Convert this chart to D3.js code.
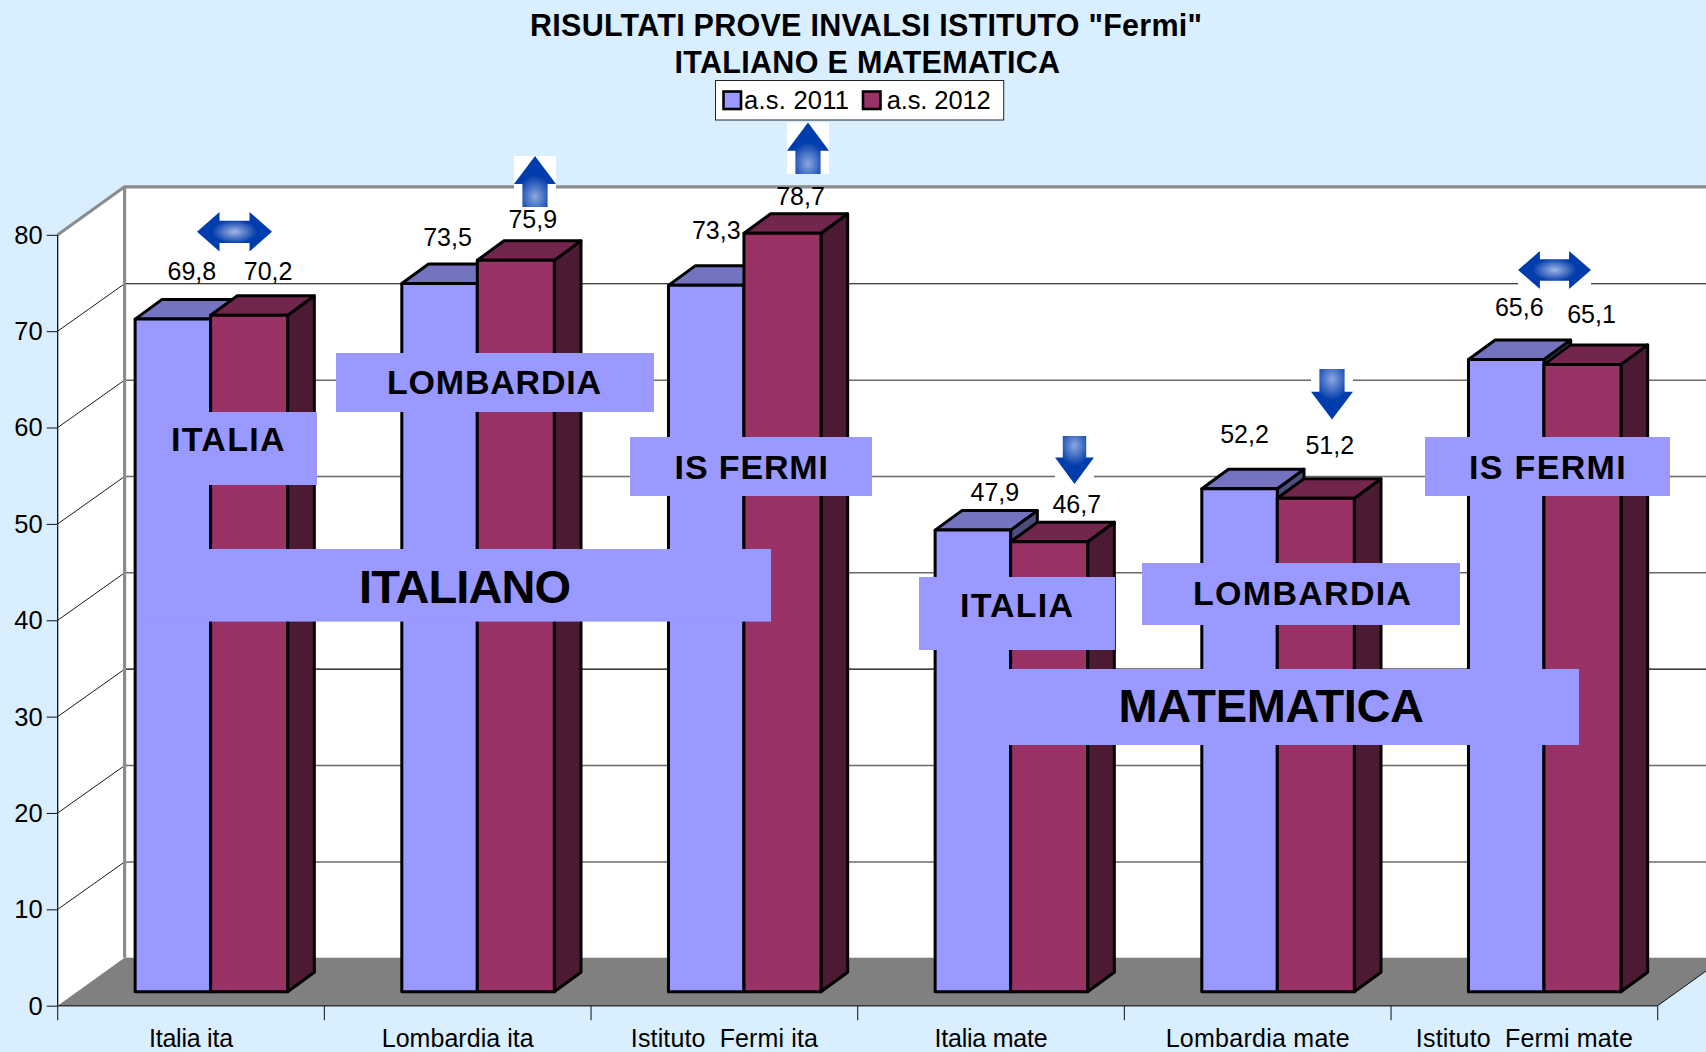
<!DOCTYPE html>
<html><head><meta charset="utf-8">
<script src="https://cdn.jsdelivr.net/npm/d3@7"></script>
<style>
html,body{margin:0;padding:0;background:#D9EEFF;overflow:hidden}
svg{display:block}
text{font-family:"Liberation Sans",Arial,sans-serif;fill:#000}
</style></head><body>
<svg id="c" width="1706" height="1052"></svg>
<script>
const categories = ["Italia ita","Lombardia ita","Istituto  Fermi ita","Italia mate","Lombardia mate","Istituto  Fermi mate"];
const seriesNames = ["a.s. 2011","a.s. 2012"];
const values2011 = [69.8,73.5,73.3,47.9,52.2,65.6];
const values2012 = [70.2,75.9,78.7,46.7,51.2,65.1];
const yTicks = [0,10,20,30,40,50,60,70,80];
const titleLines = ['RISULTATI PROVE INVALSI ISTITUTO "Fermi"','ITALIANO E MATEMATICA'];

const fmt = v => String(v).replace(".",",");
const svg = d3.select("#c");
const W = 1706;
const x = d3.scaleBand().domain(categories).range([57.7,1657.7]);
const y = d3.scaleLinear().domain([0,80]).range([1005.7,234.8]);
const barW = [75.5,77];
const depth = {dx:66.9, dy:-48};          // wall depth
const plane = {dx:19.6, dy:-14};          // bar front plane
const bar   = {dx:26.7, dy:-19.5};        // bar depth
const gridNudge = 0.6;

// walls
const yB = v => y(v)+depth.dy;
svg.append("polygon").attr("fill","#fff").attr("points",[
 [x.range()[0],y(80)],[x.range()[0]+depth.dx,yB(80)],[W,yB(80)],[W,yB(0)],[x.range()[0]+depth.dx,yB(0)],[x.range()[0],y(0)]
].join(" "));
const gridStyle = {30:["#000",1.2],70:["#000",1.2]};
svg.append("g").selectAll("line").data(yTicks.slice(1,-1)).join("line")
  .attr("x1",x.range()[0]+depth.dx).attr("x2",W).attr("y1",d=>yB(d)+gridNudge).attr("y2",d=>yB(d)+gridNudge)
  .attr("stroke",d=>gridStyle[d]?gridStyle[d][0]:"#6a6a6a").attr("stroke-width",d=>gridStyle[d]?gridStyle[d][1]:1.5);
svg.append("g").selectAll("line").data(yTicks.slice(1,-1)).join("line")
  .attr("x1",x.range()[0]).attr("x2",x.range()[0]+depth.dx).attr("y1",y).attr("y2",d=>yB(d)+gridNudge)
  .attr("stroke","#000").attr("stroke-width",0.9);
// floor
const floorEdgeY = y(0)+(x.range()[1]-W)*(-depth.dy/depth.dx);
svg.append("polygon").attr("fill","#808080").attr("points",[
 [x.range()[0],y(0)],[x.range()[0]+depth.dx,yB(0)],[W,yB(0)],[W,floorEdgeY],[x.range()[1],y(0)]
].join(" "));
svg.append("line").attr("x1",x.range()[1]).attr("y1",y(0)).attr("x2",W).attr("y2",floorEdgeY).attr("stroke","#111").attr("stroke-width",1);
// grey frame
svg.append("polyline").attr("fill","none").attr("stroke","#8c8c8c").attr("stroke-width",3.2)
  .attr("points",[[x.range()[0],y(80)],[x.range()[0]+depth.dx,yB(80)],[W,yB(80)]].join(" "));
svg.append("line").attr("x1",x.range()[0]+depth.dx).attr("x2",x.range()[0]+depth.dx).attr("y1",yB(80)).attr("y2",yB(0))
  .attr("stroke","#8c8c8c").attr("stroke-width",3.2);

// bars
const palette = [
 {front:"#9999FF",top:"#7373BF",side:"#4D4D80"},
 {front:"#993366",top:"#73264D",side:"#4D1A33"}
];
const rows = [];
seriesNames.forEach((s,si)=>{
  const vals = si===0?values2011:values2012;
  categories.forEach((c,ci)=>rows.push({s,si,c,ci,v:vals[ci]}));
});
const gb = svg.append("g").attr("stroke","#000").attr("stroke-width",3).attr("stroke-linejoin","round");
rows.forEach(d=>{
  const mid = x(d.c)+x.bandwidth()/2+plane.dx;
  const l = d.si===0?mid-barW[0]:mid, r = d.si===0?mid:mid+barW[1];
  const b = y(0)+plane.dy, t = y(d.v)+plane.dy;
  d.cx=(l+r)/2; d.top=t;
  const p = palette[d.si];
  gb.append("polygon").attr("fill",p.side).attr("points",[[r,t],[r+bar.dx,t+bar.dy],[r+bar.dx,b+bar.dy],[r,b]].join(" "));
  gb.append("polygon").attr("fill",p.top).attr("points",[[l,t],[l+bar.dx,t+bar.dy],[r+bar.dx,t+bar.dy],[r,t]].join(" "));
  gb.append("rect").attr("fill",p.front).attr("x",l).attr("y",t).attr("width",r-l).attr("height",b-t);
});

// axes
const ax = svg.append("g").attr("transform",`translate(${x.range()[0]},0)`)
  .call(d3.axisLeft(y).tickValues(yTicks).tickFormat(d3.format("d")).tickSize(11).tickPadding(4));
ax.select(".domain").attr("stroke","#000").attr("stroke-width",1.2).attr("d",`M0,${y(80)}V${y(0)}`);
ax.selectAll("line").attr("stroke","#111").attr("stroke-width",1);
ax.selectAll("text").style("font-size","25.5px").style("font-family",'"Liberation Sans"').attr("fill","#000").attr("dy","0.33em");

const bx = svg.append("g").attr("transform",`translate(0,${y(0)})`)
  .call(d3.axisBottom(x).tickSize(0).tickPadding(32));
bx.select(".domain").attr("stroke","#333").attr("stroke-width",1.6).attr("d",`M${x.range()[0]},0H${x.range()[1]}`);
const catWidths = [84,152,187,113,184,217];
bx.selectAll("text").style("font-size","25px").style("font-family",'"Liberation Sans"').attr("fill","#000")
  .attr("dy","0.36em").attr("textLength",(d,i)=>catWidths[i]).attr("lengthAdjust","spacing").style("white-space","pre");
const edges = categories.map(c=>x(c)).concat(x.range()[1]);
bx.append("g").selectAll("line").data(edges).join("line").attr("x1",d=>d).attr("x2",d=>d).attr("y1",0).attr("y2",14.5)
  .attr("stroke","#222").attr("stroke-width",1.1);

// white-backed arrows
const defs = svg.append("defs");
defs.append("filter").attr("id","soft").attr("x","-10%").attr("y","-10%").attr("width","120%").attr("height","120%")
  .append("feGaussianBlur").attr("stdDeviation",0.7);
const radial = (id,cx,cy,r,light)=>{
  const g = defs.append("radialGradient").attr("id",id).attr("cx",cx).attr("cy",cy).attr("r",r);
  g.append("stop").attr("offset","0%").attr("stop-color",light);
  g.append("stop").attr("offset","100%").attr("stop-color","#023CAC");
};
radial("both",.5,.5,.3,"#A3B7E4");
radial("up",.5,.8,.42,"#8CA7DF");
radial("down",.5,.2,.42,"#8CA7DF");
const arrows = [
 {k:"up",x:514,y:156,w:42,h:51},{k:"up",x:787,y:122.5,w:42,h:51.5},
 {k:"down",x:1055,y:436,w:39,h:48},{k:"down",x:1311,y:369,w:42,h:50.5},
 {k:"both",x:197,y:212,w:75,h:39.6},{k:"both",x:1518,y:251,w:73,h:38}
];
const shapes = {
 up:[[.5,0],[1,.55],[.8,.55],[.8,1],[.2,1],[.2,.55],[0,.55]],
 down:[[.5,1],[1,.45],[.8,.45],[.8,0],[.2,0],[.2,.45],[0,.45]],
 both:[[0,.5],[.3,0],[.3,.22],[.7,.22],[.7,0],[1,.5],[.7,1],[.7,.78],[.3,.78],[.3,1]]
};
const ag = svg.append("g");
arrows.forEach(a=>{
  ag.append("rect").attr("x",a.x).attr("y",a.y).attr("width",a.w).attr("height",a.h).attr("fill","#fff");
  ag.append("polygon").attr("fill",`url(#${a.k})`).attr("filter","url(#soft)")
    .attr("points",shapes[a.k].map(p=>[a.x+p[0]*a.w,a.y+p[1]*a.h]).join(" "));
});

// labelled blocks
const blocks = [
 {t:"ITALIA",x0:150,x1:317,y0:412,y1:485,tx0:171,tx1:284.5,base:451,fs:34},
 {t:"LOMBARDIA",x0:336,x1:654,y0:353,y1:412,tx0:387,tx1:601,base:394,fs:34},
 {t:"IS FERMI",x0:630,x1:872,y0:437,y1:496,tx0:674.6,tx1:828,base:478.5,fs:34},
 {t:"IS FERMI",x0:1425,x1:1670,y0:437,y1:496,tx0:1469,tx1:1625.6,base:478.5,fs:34},
 {t:"ITALIANO",x0:150,x1:771,y0:549,y1:621.6,tx0:359,tx1:571,base:602.5,fs:47},
 {t:"ITALIA",x0:919,x1:1115,y0:577,y1:650,tx0:960,tx1:1073,base:616.6,fs:34},
 {t:"LOMBARDIA",x0:1142,x1:1460,y0:563,y1:625,tx0:1193,tx1:1411,base:605,fs:34},
 {t:"MATEMATICA",x0:950,x1:1579,y0:669,y1:745,tx0:1118.5,tx1:1424,base:722,fs:47}
];
const bg = svg.append("g");
blocks.forEach(b=>{
  bg.append("rect").attr("x",b.x0).attr("y",b.y0).attr("width",b.x1-b.x0).attr("height",b.y1-b.y0).attr("fill","#9999FF");
  bg.append("text").text(b.t).attr("x",b.tx0).attr("y",b.base).attr("font-size",b.fs).attr("font-weight","bold")
    .attr("textLength",b.tx1-b.tx0).attr("lengthAdjust","spacing");
});

// data labels
const nudges = {
 "a.s. 2011":[[19,-47],[8,-45.4],[10,-55],[22,-37],[5,-53.6],[13,-52]],
 "a.s. 2012":[[19,-43],[17,-41],[18,-37],[27.6,-37],[14,-52.5],[9,-50]]
};
svg.append("g").selectAll("text").data(rows).join("text")
  .text(d=>fmt(d.v)).attr("x",d=>d.cx+nudges[d.s][d.ci][0]).attr("y",d=>d.top+nudges[d.s][d.ci][1])
  .attr("dy","0.33em").attr("text-anchor","middle").attr("font-size",25);

// title
svg.append("text").text(titleLines[0]).attr("x",530).attr("y",36).attr("font-size",30.5).attr("font-weight","bold").attr("textLength",672).attr("lengthAdjust","spacing");
svg.append("text").text(titleLines[1]).attr("x",674.6).attr("y",72.8).attr("font-size",30.5).attr("font-weight","bold").attr("textLength",385.4).attr("lengthAdjust","spacing");

// legend
const lg = svg.append("g");
lg.append("rect").attr("x",715.5).attr("y",80.5).attr("width",288.2).attr("height",39.5).attr("fill","#fff").attr("stroke","#222").attr("stroke-width",1);
[{x:723.5,tx:744,tw:105},{x:863,tx:886.7,tw:104}].forEach((l,i)=>{
  lg.append("rect").attr("x",l.x).attr("y",91.5).attr("width",17.5).attr("height",17.5).attr("fill",palette[i].front).attr("stroke","#000").attr("stroke-width",2.6);
  lg.append("text").text(seriesNames[i]).attr("x",l.tx).attr("y",109).attr("font-size",25.5).attr("textLength",l.tw).attr("lengthAdjust","spacing");
});
</script>
</body></html>
